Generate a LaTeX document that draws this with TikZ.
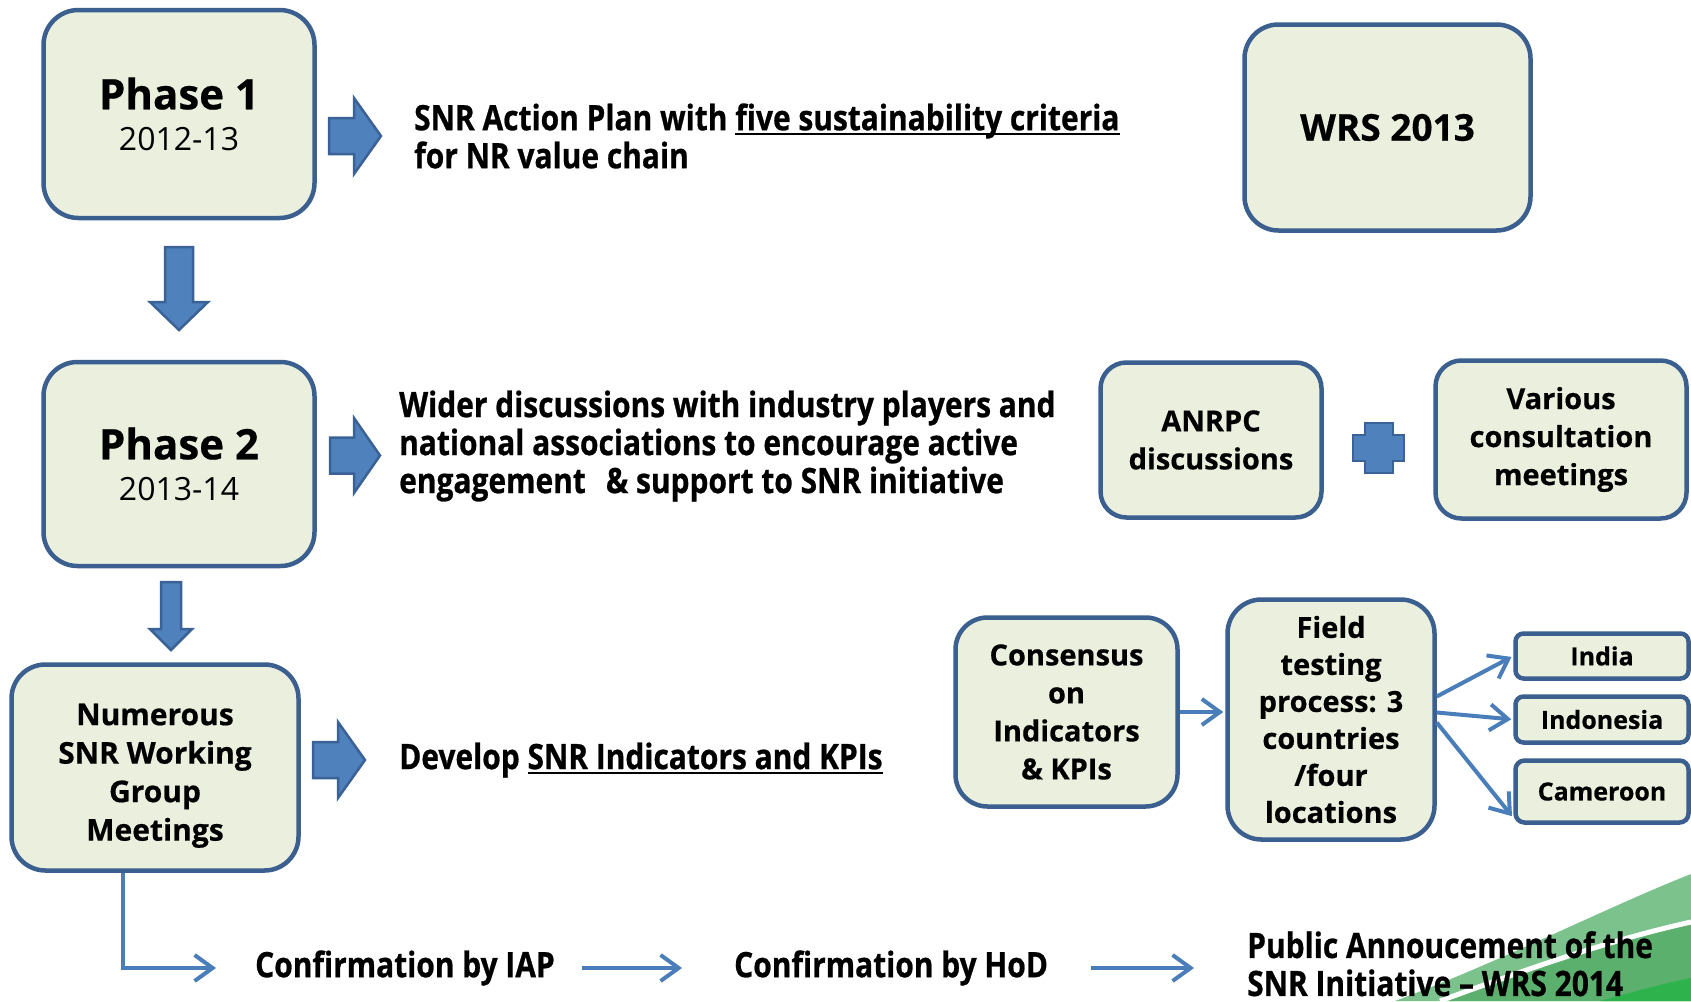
\documentclass[tikz,border=0pt]{standalone}
\usepackage{fontspec}
\setmainfont{Open Sans}[BoldFeatures={FakeBold=0.5}]
\newfontfamily\condfont[FakeStretch=0.855, BoldFeatures={FakeBold=0.7}]{Open Sans}
\usetikzlibrary{arrows.meta}
\definecolor{boxfill}{HTML}{EBF0DE}
\definecolor{boxline}{HTML}{3B6090}
\definecolor{blkfill}{HTML}{4F81BD}
\definecolor{blkline}{HTML}{3A6296}
\definecolor{flowblue}{HTML}{4A7EBB}
\definecolor{greenA}{HTML}{7CC28D}
\definecolor{greenB}{HTML}{5AB06C}
\definecolor{greenC}{HTML}{2EB24C}
\newcommand\ulx[1]{\setbox0=\hbox{#1}\rlap{\rule[-5pt]{\wd0}{2.4pt}}\box0}
\newcommand\rightblk[6]{\filldraw[blk] (#1,#4-#5) -- (#3,#4-#5) -- (#3,#4-#6) -- (#2,#4) -- (#3,#4+#6) -- (#3,#4+#5) -- (#1,#4+#5) -- cycle;}
\newcommand\downblk[6]{\filldraw[blk] (#1-#5,#2) -- (#1+#5,#2) -- (#1+#5,#3) -- (#1+#6,#3) -- (#1,#4) -- (#1-#6,#3) -- (#1-#5,#3) -- cycle;}
\begin{document}
\begin{tikzpicture}[x=1pt,y=-1pt,
  box/.style={draw=boxline, fill=boxfill, line width=4.5pt, align=center, inner sep=0pt,
    font=\bfseries\fontsize{29}{38}\selectfont},
  phase/.style={box, font=\bfseries\fontsize{42}{41}\selectfont},
  flow/.style={draw=flowblue, line width=4pt, -{Straight Barb[length=18pt,width=26pt]}, shorten >=2pt},
  blk/.style={fill=blkfill, draw=blkline, line width=2.5pt, line join=miter},
  plain/.style={inner sep=0pt, align=left, font=\condfont\bfseries\fontsize{35}{38}\selectfont}]
\useasboundingbox (0,0) rectangle (1691,1001);
\fill[white] (0,0) rectangle (1691,1001);
% decorative green swoosh
\fill[greenA] (1395,1001) .. controls (1500,962) and (1605,908) .. (1691,874) -- (1691,1001) -- cycle;
\fill[greenB] (1440,1001) .. controls (1530,968) and (1610,940) .. (1691,922) -- (1691,1001) -- cycle;
\fill[greenC] (1600,1001) .. controls (1640,990) and (1670,982) .. (1691,978) -- (1691,1001) -- cycle;
\draw[white, line width=5pt] (1440,1001) .. controls (1530,968) and (1610,940) .. (1691,922);

% boxes
\node[phase, minimum width=271pt, minimum height=208pt, rounded corners=35pt] (p1) at (179,114)
  {Phase 1\\{\mdseries\fontsize{32}{40}\selectfont 2012-13}};
\node[phase, minimum width=271pt, minimum height=204pt, rounded corners=34pt] (p2) at (179,464)
  {Phase 2\\{\mdseries\fontsize{32}{40}\selectfont 2013-14}};
\node[box, minimum width=286pt, minimum height=206pt, rounded corners=34pt, font=\bfseries\fontsize{37}{40}\selectfont] (wrs) at (1387.5,127.5) {WRS 2013};
\node[box, minimum width=287pt, minimum height=206pt, rounded corners=34pt, font=\bfseries\fontsize{30}{38.5}\selectfont] (num) at (155,767.5)
  {\rule{0pt}{38pt}Numerous\\SNR Working\\Group\\Meetings};
\node[box, minimum width=221pt, minimum height=155pt, rounded corners=26pt] (anrpc) at (1211,440) {ANRPC\\discussions};
\node[box, minimum width=251pt, minimum height=158pt, rounded corners=26pt] (various) at (1561,439.5) {Various\\consultation\\meetings};
\node[box, minimum width=222pt, minimum height=189pt, rounded corners=32pt] (cons) at (1066.5,712) {Consensus\\on\\Indicators\\\& KPIs};
\node[box, minimum width=207pt, minimum height=240pt, rounded corners=34pt, font=\bfseries\fontsize{29}{37}\selectfont] (field) at (1331,719.5)
  {Field\\testing\\process: 3\\countries\\/four\\locations};
\node[box, minimum width=173pt, minimum height=45pt, rounded corners=8pt, font=\bfseries\fontsize{25}{30}\selectfont] (india) at (1602,656) {India};
\node[box, minimum width=173pt, minimum height=46pt, rounded corners=8pt, font=\bfseries\fontsize{25}{30}\selectfont] (indo) at (1602,719.5) {Indonesia};
\node[box, minimum width=173pt, minimum height=62pt, rounded corners=9pt, font=\bfseries\fontsize{25}{30}\selectfont] (cam) at (1602,791.5) {Cameroon};

% block arrows and plus
\rightblk{329}{381}{354}{136}{18}{38}
\rightblk{330}{380}{354}{455.5}{18}{37.5}
\rightblk{313}{365}{338}{760}{18}{38}
\downblk{179}{247}{302}{330}{14}{29}
\downblk{171}{582}{629}{650}{10}{21}
\filldraw[blk] (1365,423) -- (1393,423) -- (1393,435) -- (1404,435) -- (1404,461) -- (1393,461) -- (1393,473) -- (1365,473) -- (1365,461) -- (1353,461) -- (1353,435) -- (1365,435) -- cycle;

% texts
\node[plain, anchor=west] (t1) at (414,136) {SNR Action Plan with \ulx{five sustainability criteria}\\for NR value chain};
\node[plain, anchor=west] (t2) at (399,446) {Wider discussions with industry players and\\national associations to encourage active\\engagement\hspace{0.35em} \& support to SNR initiative};
\node[plain, anchor=west] (t3) at (399,760) {Develop \ulx{SNR Indicators and KPIs}};
\node[plain, anchor=west] (iap) at (255,968) {Confirmation by IAP};
\node[plain, anchor=west] (hod) at (734,968) {Confirmation by HoD};
\node[plain, anchor=north west] (pub) at (1247,931) {Public Annoucement of the\\SNR Initiative – WRS 2014};

% connectors
\draw[flow] ([xshift=-32pt]num.south) |- ([xshift=-37pt]iap.west);
\draw[flow, shorten <=27pt, shorten >=52pt] (iap.east) -- (hod.west);
\draw[flow, shorten <=43pt, shorten >=53pt] (hod.east) -- (hod.east -| pub.west);
\draw[flow] (cons.east) -- (cons.east -| field.west);
\draw[flow] ([yshift=23pt]field.east) -- (india.west);
\draw[flow] ([yshift=7pt]field.east) -- (indo.west);
\draw[flow] ([yshift=-3pt]field.east) -- ([yshift=7pt]cam.south west);
\end{tikzpicture}
\end{document}
